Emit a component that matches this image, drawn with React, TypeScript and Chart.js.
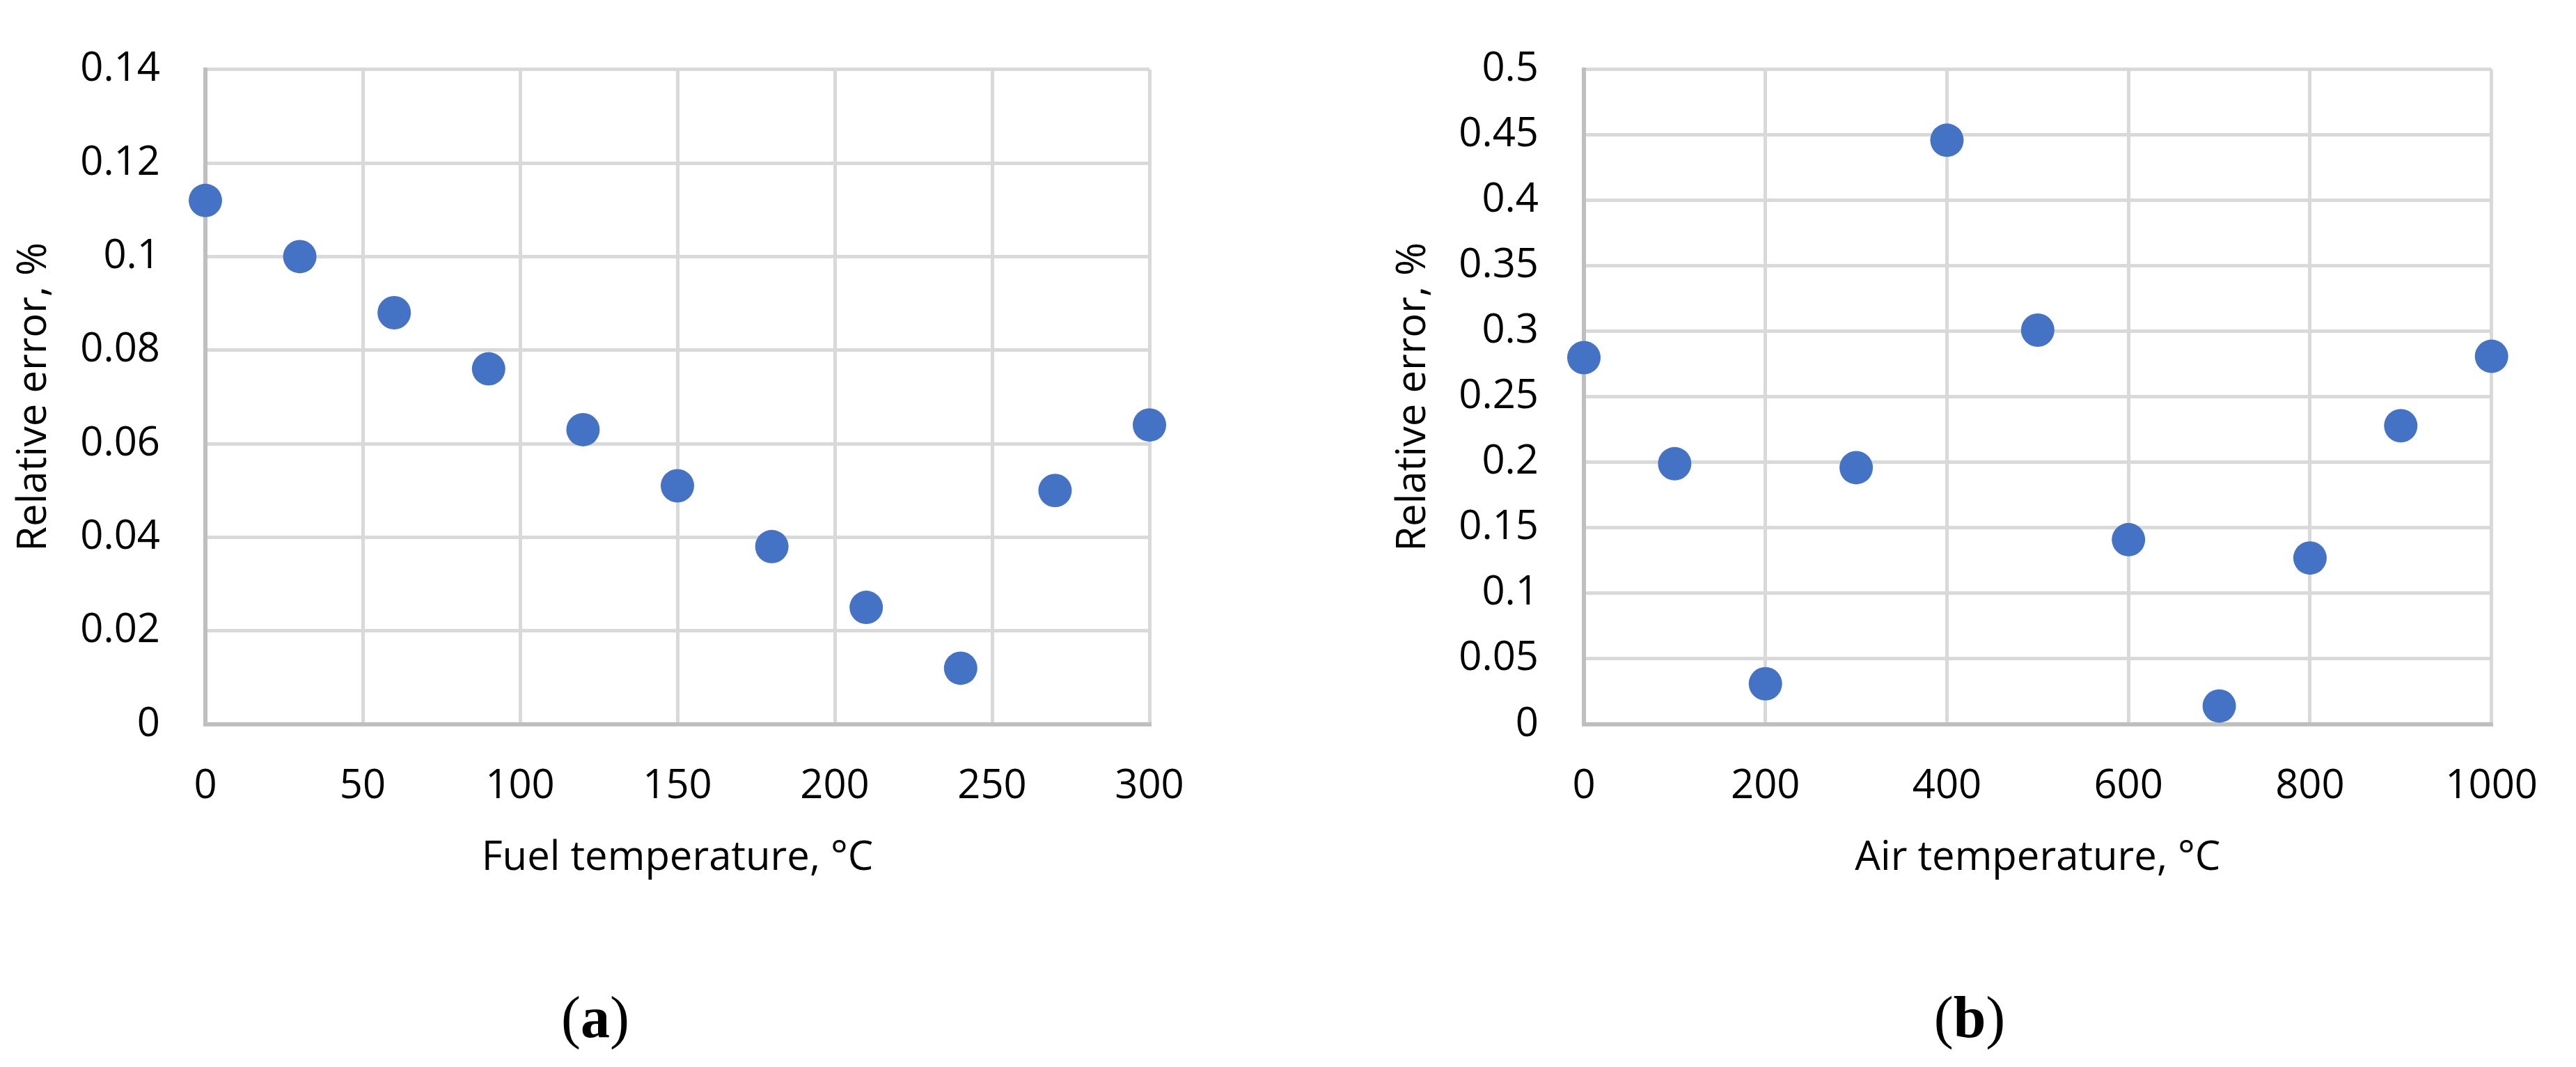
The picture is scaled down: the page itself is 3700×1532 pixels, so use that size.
import React, { useEffect, useRef } from 'react';
import { Chart, registerables } from 'chart.js';

Chart.register(...registerables);

// ---- Data: panel (a) ----
const fuelTemps = [0, 30, 60, 90, 120, 150, 180, 210, 240, 270, 300];
const fuelErrors = [0.112, 0.1, 0.088, 0.076, 0.063, 0.051, 0.038, 0.025, 0.012, 0.05, 0.064];
const fuelXTicks = [0, 50, 100, 150, 200, 250, 300];
const fuelYTicks = [0, 0.02, 0.04, 0.06, 0.08, 0.1, 0.12, 0.14];
const fuelXTitle = 'Fuel temperature, °C';

// ---- Data: panel (b) ----
const airTemps = [0, 100, 200, 300, 400, 500, 600, 700, 800, 900, 1000];
const airErrors = [0.28, 0.199, 0.031, 0.196, 0.446, 0.301, 0.141, 0.014, 0.127, 0.228, 0.281];
const airXTicks = [0, 200, 400, 600, 800, 1000];
const airYTicks = [0, 0.05, 0.1, 0.15, 0.2, 0.25, 0.3, 0.35, 0.4, 0.45, 0.5];
const airXTitle = 'Air temperature, °C';

const yTitleText = 'Relative error, %';
const panelLabels = ['a', 'b'];

const FONT = "'Open Sans', sans-serif";
const FS = 58;
const CW = 1850;
const CH = 1300;

type PanelSpec = {
  xs: number[];
  ys: number[];
  xTicks: number[];
  yTicks: number[];
  xTitle: string;
  yWidth: number;
  yTitlePad: number;
  padRight: number;
};

function makeConfig(p: PanelSpec): any {
  const gridColor = (ctx: any) => (ctx.index === 0 ? 'rgba(0,0,0,0)' : '#D9D9D9');
  return {
    type: 'scatter',
    data: {
      datasets: [
        {
          data: p.xs.map((x, i) => ({ x, y: p.ys[i] })),
          backgroundColor: '#4472C4',
          borderColor: '#4472C4',
          borderWidth: 0,
          pointRadius: 24,
          pointHoverRadius: 24,
          showLine: false,
          clip: false,
        },
      ],
    },
    options: {
      responsive: false,
      animation: false,
      devicePixelRatio: 1,
      events: [],
      layout: { padding: { left: 0, top: 50, right: p.padRight, bottom: 0 } },
      plugins: { legend: { display: false }, tooltip: { enabled: false } },
      scales: {
        x: {
          type: 'linear',
          min: p.xTicks[0],
          max: p.xTicks[p.xTicks.length - 1],
          afterBuildTicks: (scale: any) => {
            scale.ticks = p.xTicks.map((v) => ({ value: v }));
          },
          afterFit: (scale: any) => {
            scale.height = 260;
          },
          grid: { color: gridColor, lineWidth: 5, drawTicks: false },
          border: { color: '#BFBFBF', width: 6 },
          ticks: {
            padding: 55,
            color: '#000',
            font: { family: FONT, size: FS },
            maxRotation: 0,
            autoSkip: false,
            callback: (v: any) => String(v),
          },
          title: {
            display: true,
            text: p.xTitle,
            color: '#000',
            font: { family: FONT, size: FS },
            padding: { top: 0, bottom: 33 },
          },
        },
        y: {
          type: 'linear',
          min: p.yTicks[0],
          max: p.yTicks[p.yTicks.length - 1],
          afterBuildTicks: (scale: any) => {
            scale.ticks = p.yTicks.map((v) => ({ value: v }));
          },
          afterFit: (scale: any) => {
            scale.width = p.yWidth;
          },
          grid: { color: gridColor, lineWidth: 5, drawTicks: false },
          border: { color: '#BFBFBF', width: 6 },
          ticks: {
            padding: 65,
            color: '#000',
            font: { family: FONT, size: FS },
            autoSkip: false,
            callback: (v: any) => String(v),
          },
          title: {
            display: true,
            text: yTitleText,
            color: '#000',
            font: { family: FONT, size: FS },
            padding: { top: p.yTitlePad, bottom: 0 },
          },
        },
      },
    },
  };
}

function ScatterPanel({ spec, left }: { spec: PanelSpec; left: number }) {
  const ref = useRef<HTMLCanvasElement | null>(null);
  useEffect(() => {
    if (!ref.current) return;
    const chart = new Chart(ref.current, makeConfig(spec));
    return () => chart.destroy();
  }, []);
  return (
    <canvas
      ref={ref}
      width={CW}
      height={CH}
      style={{ position: 'absolute', left, top: 0, width: CW, height: CH }}
    />
  );
}

function PanelLabel({ letter, cx }: { letter: string; cx: number }) {
  return (
    <div
      style={{
        position: 'absolute',
        left: cx - 150,
        top: 1411,
        width: 300,
        textAlign: 'center',
        fontFamily: "'Liberation Serif', 'Times New Roman', serif",
        fontSize: 84,
        lineHeight: '100px',
        color: '#000',
      }}
    >
      (<b>{letter}</b>)
    </div>
  );
}

export default function App() {
  const specA: PanelSpec = {
    xs: fuelTemps,
    ys: fuelErrors,
    xTicks: fuelXTicks,
    yTicks: fuelYTicks,
    xTitle: fuelXTitle,
    yWidth: 295,
    yTitlePad: 15,
    padRight: CW - 1651,
  };
  const specB: PanelSpec = {
    xs: airTemps,
    ys: airErrors,
    xTicks: airXTicks,
    yTicks: airYTicks,
    xTitle: airXTitle,
    yWidth: 425,
    yTitlePad: 146,
    padRight: CW - 1764,
  };
  return (
    <div
      style={{
        position: 'absolute',
        left: 0,
        top: 0,
        width: 3700,
        height: 1532,
        background: '#fff',
        overflow: 'hidden',
      }}
    >
      <ScatterPanel spec={specA} left={0} />
      <ScatterPanel spec={specB} left={1850} />
      <PanelLabel letter={panelLabels[0]} cx={855} />
      <PanelLabel letter={panelLabels[1]} cx={2829} />
    </div>
  );
}
